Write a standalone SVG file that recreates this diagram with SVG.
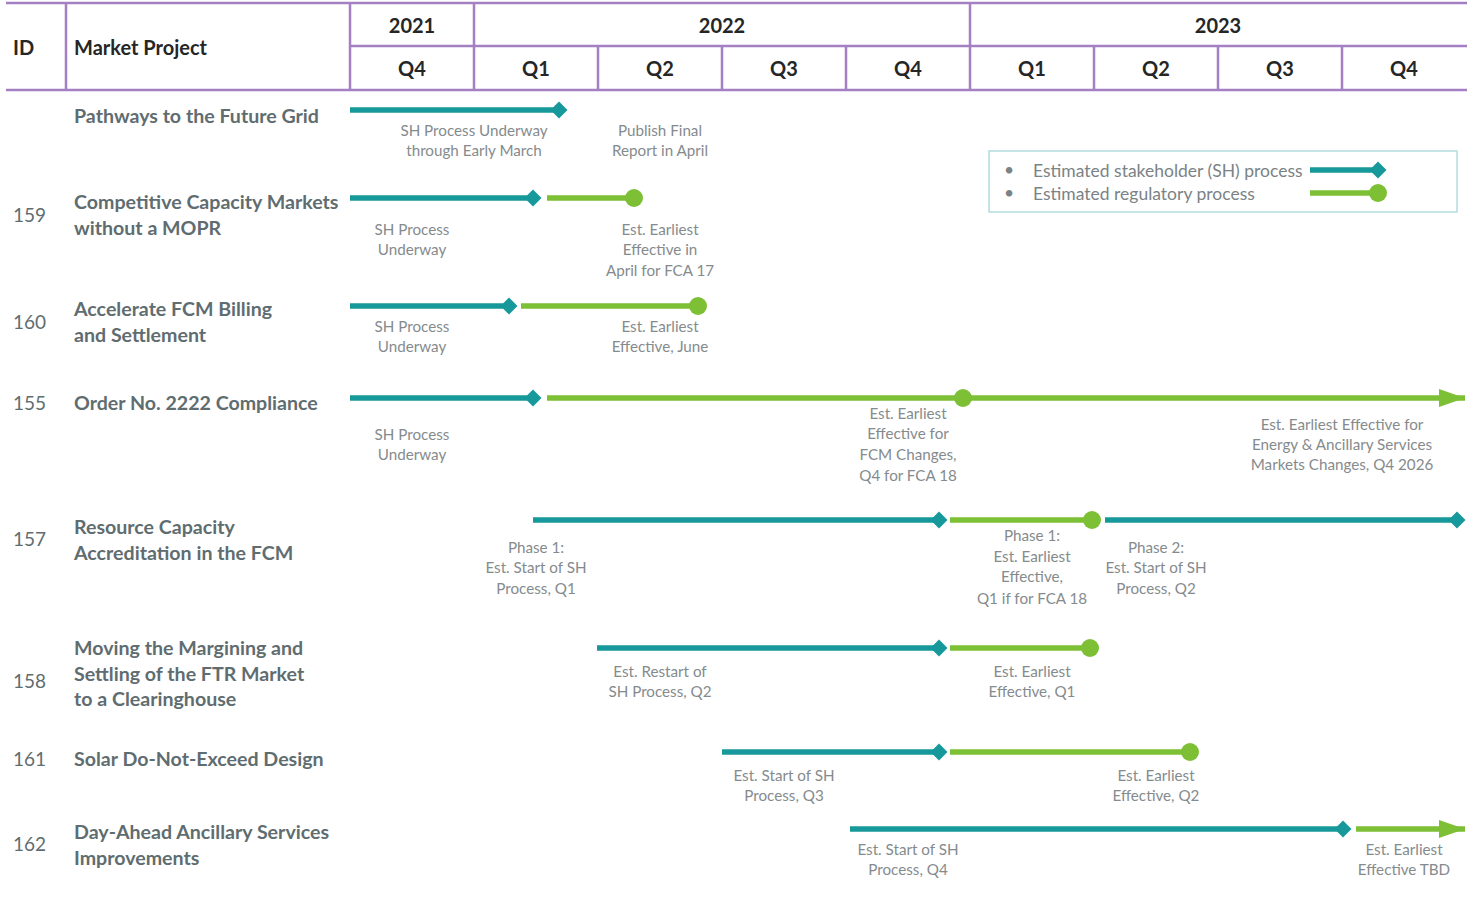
<svg xmlns="http://www.w3.org/2000/svg" width="1473" height="900" viewBox="0 0 1473 900">
<style>
.hdr{font-family:Lato,"Liberation Sans",sans-serif;font-weight:bold;font-size:20px;fill:#262626;dominant-baseline:central}
.yr{text-anchor:middle}
.grid{stroke:#A47FC2;stroke-width:2.5;fill:none}
.id{font-family:Lato,"Liberation Sans",sans-serif;font-size:19px;fill:#5f6d70;dominant-baseline:central}
.name{font-family:Lato,"Liberation Sans",sans-serif;font-weight:bold;font-size:19.6px;fill:#5f6d70;dominant-baseline:central}
.lbl{font-family:Lato,"Liberation Sans",sans-serif;font-size:15.2px;fill:#858b8d;text-anchor:middle;dominant-baseline:central}
.leg{font-family:Lato,"Liberation Sans",sans-serif;font-size:17.5px;fill:#7b8385;dominant-baseline:central}
.sh{stroke:#17989B;stroke-width:5.5;fill:none}
.rg{stroke:#7DBF35;stroke-width:5.5;fill:none}
.shd{fill:#17989B}
.rgd{fill:#7DBF35}
</style>
<defs>
<marker id="dia" viewBox="-10 -10 20 20" markerWidth="20" markerHeight="20" markerUnits="userSpaceOnUse" refX="0" refY="0" orient="auto"><path d="M-8.5,0 L0,-8.5 L8.5,0 L0,8.5 Z" class="shd"/></marker>
<marker id="dot" viewBox="-10 -10 20 20" markerWidth="20" markerHeight="20" markerUnits="userSpaceOnUse" refX="0" refY="0" orient="auto"><circle r="9" class="rgd"/></marker>
<marker id="arr" viewBox="0 -10 26 20" markerWidth="26" markerHeight="20" markerUnits="userSpaceOnUse" refX="26" refY="0" orient="auto"><path d="M0,-9 L26,0 L0,9 Z" class="rgd"/></marker>
</defs>
<rect width="1473" height="900" fill="#ffffff"/>
<g id="header">
<line class="grid" x1="6" y1="3" x2="1467" y2="3"/>
<line class="grid" x1="350" y1="46" x2="1467" y2="46"/>
<line class="grid" x1="6" y1="90" x2="1467" y2="90"/>
<line class="grid" x1="66" y1="3" x2="66" y2="90"/>
<line class="grid" x1="350" y1="3" x2="350" y2="90"/>
<line class="grid" x1="474" y1="3" x2="474" y2="90"/>
<line class="grid" x1="970" y1="3" x2="970" y2="90"/>
<line class="grid" x1="598" y1="46" x2="598" y2="90"/>
<line class="grid" x1="722" y1="46" x2="722" y2="90"/>
<line class="grid" x1="846" y1="46" x2="846" y2="90"/>
<line class="grid" x1="1094" y1="46" x2="1094" y2="90"/>
<line class="grid" x1="1218" y1="46" x2="1218" y2="90"/>
<line class="grid" x1="1342" y1="46" x2="1342" y2="90"/>
<text class="hdr" x="13" y="47">ID</text>
<text class="hdr" x="74" y="47">Market Project</text>
<text class="hdr yr" x="412" y="25">2021</text>
<text class="hdr yr" x="722" y="25">2022</text>
<text class="hdr yr" x="1218" y="25">2023</text>
<text class="hdr yr" x="412" y="68">Q4</text>
<text class="hdr yr" x="536" y="68">Q1</text>
<text class="hdr yr" x="660" y="68">Q2</text>
<text class="hdr yr" x="784" y="68">Q3</text>
<text class="hdr yr" x="908" y="68">Q4</text>
<text class="hdr yr" x="1032" y="68">Q1</text>
<text class="hdr yr" x="1156" y="68">Q2</text>
<text class="hdr yr" x="1280" y="68">Q3</text>
<text class="hdr yr" x="1404" y="68">Q4</text>
</g>
<g id="legend">
<rect x="989" y="151" width="468" height="61" fill="none" stroke="#B3DCE0" stroke-width="1.5"/>
<text class="leg" x="1004" y="169">•</text>
<text class="leg" x="1004" y="192">•</text>
<text class="leg" x="1033" y="170">Estimated stakeholder (SH) process</text>
<text class="leg" x="1033" y="193">Estimated regulatory process</text>
<line class="sh" x1="1310" y1="170" x2="1378" y2="170" marker-end="url(#dia)"/>
<line class="rg" x1="1310" y1="193" x2="1378" y2="193" marker-end="url(#dot)"/>
</g>
<g id="row-pathways">
<text class="name" x="74" y="115">Pathways to the Future Grid</text>
<text class="lbl" x="474" y="130">SH Process Underway</text>
<text class="lbl" x="474" y="150">through Early March</text>
<text class="lbl" x="660" y="130">Publish Final</text>
<text class="lbl" x="660" y="150">Report in April</text>
</g>
<g id="row-159">
<text class="id" x="13" y="214">159</text>
<text class="name" x="74" y="201">Competitive Capacity Markets</text>
<text class="name" x="74" y="227">without a MOPR</text>
<text class="lbl" x="412" y="229">SH Process</text>
<text class="lbl" x="412" y="249">Underway</text>
<text class="lbl" x="660" y="229">Est. Earliest</text>
<text class="lbl" x="660" y="249">Effective in</text>
<text class="lbl" x="660" y="270">April for FCA 17</text>
</g>
<g id="row-160">
<text class="id" x="13" y="321">160</text>
<text class="name" x="74" y="308">Accelerate FCM Billing</text>
<text class="name" x="74" y="334">and Settlement</text>
<text class="lbl" x="412" y="326">SH Process</text>
<text class="lbl" x="412" y="346">Underway</text>
<text class="lbl" x="660" y="326">Est. Earliest</text>
<text class="lbl" x="660" y="346">Effective, June</text>
</g>
<g id="row-155">
<text class="id" x="13" y="402">155</text>
<text class="name" x="74" y="402">Order No. 2222 Compliance</text>
<text class="lbl" x="412" y="434">SH Process</text>
<text class="lbl" x="412" y="454">Underway</text>
<text class="lbl" x="908" y="413">Est. Earliest</text>
<text class="lbl" x="908" y="433">Effective for</text>
<text class="lbl" x="908" y="454">FCM Changes,</text>
<text class="lbl" x="908" y="475">Q4 for FCA 18</text>
<text class="lbl" x="1342" y="424">Est. Earliest Effective for</text>
<text class="lbl" x="1342" y="444">Energy &amp; Ancillary Services</text>
<text class="lbl" x="1342" y="464">Markets Changes, Q4 2026</text>
</g>
<g id="row-157">
<text class="id" x="13" y="538">157</text>
<text class="name" x="74" y="526">Resource Capacity</text>
<text class="name" x="74" y="552">Accreditation in the FCM</text>
<text class="lbl" x="536" y="547">Phase 1:</text>
<text class="lbl" x="536" y="567">Est. Start of SH</text>
<text class="lbl" x="536" y="588">Process, Q1</text>
<text class="lbl" x="1032" y="535">Phase 1:</text>
<text class="lbl" x="1032" y="556">Est. Earliest</text>
<text class="lbl" x="1032" y="576">Effective,</text>
<text class="lbl" x="1032" y="598">Q1 if for FCA 18</text>
<text class="lbl" x="1156" y="547">Phase 2:</text>
<text class="lbl" x="1156" y="567">Est. Start of SH</text>
<text class="lbl" x="1156" y="588">Process, Q2</text>
</g>
<g id="row-158">
<text class="id" x="13" y="680">158</text>
<text class="name" x="74" y="647">Moving the Margining and</text>
<text class="name" x="74" y="673">Settling of the FTR Market</text>
<text class="name" x="74" y="698">to a Clearinghouse</text>
<text class="lbl" x="660" y="671">Est. Restart of</text>
<text class="lbl" x="660" y="691">SH Process, Q2</text>
<text class="lbl" x="1032" y="671">Est. Earliest</text>
<text class="lbl" x="1032" y="691">Effective, Q1</text>
</g>
<g id="row-161">
<text class="id" x="13" y="758">161</text>
<text class="name" x="74" y="758">Solar Do-Not-Exceed Design</text>
<text class="lbl" x="784" y="775">Est. Start of SH</text>
<text class="lbl" x="784" y="795">Process, Q3</text>
<text class="lbl" x="1156" y="775">Est. Earliest</text>
<text class="lbl" x="1156" y="795">Effective, Q2</text>
</g>
<g id="row-162">
<text class="id" x="13" y="843">162</text>
<text class="name" x="74" y="831">Day-Ahead Ancillary Services</text>
<text class="name" x="74" y="857">Improvements</text>
<text class="lbl" x="908" y="849">Est. Start of SH</text>
<text class="lbl" x="908" y="869">Process, Q4</text>
<text class="lbl" x="1404" y="849">Est. Earliest</text>
<text class="lbl" x="1404" y="869">Effective TBD</text>
</g>
<g id="connectors">
<line class="sh" x1="350" y1="110" x2="559" y2="110" marker-end="url(#dia)"/>
<line class="sh" x1="350" y1="198" x2="533" y2="198" marker-end="url(#dia)"/>
<line class="rg" x1="547" y1="198" x2="634" y2="198" marker-end="url(#dot)"/>
<line class="sh" x1="350" y1="306" x2="509" y2="306" marker-end="url(#dia)"/>
<line class="rg" x1="521" y1="306" x2="698" y2="306" marker-end="url(#dot)"/>
<line class="sh" x1="350" y1="398" x2="533" y2="398" marker-end="url(#dia)"/>
<line class="rg" x1="547" y1="398" x2="963" y2="398" marker-end="url(#dot)"/>
<line class="rg" x1="963" y1="398" x2="1465" y2="398" marker-end="url(#arr)"/>
<line class="sh" x1="533" y1="520" x2="939" y2="520" marker-end="url(#dia)"/>
<line class="rg" x1="950" y1="520" x2="1092" y2="520" marker-end="url(#dot)"/>
<line class="sh" x1="1105" y1="520" x2="1457" y2="520" marker-end="url(#dia)"/>
<line class="sh" x1="597" y1="648" x2="939" y2="648" marker-end="url(#dia)"/>
<line class="rg" x1="950" y1="648" x2="1090" y2="648" marker-end="url(#dot)"/>
<line class="sh" x1="722" y1="752" x2="939" y2="752" marker-end="url(#dia)"/>
<line class="rg" x1="950" y1="752" x2="1190" y2="752" marker-end="url(#dot)"/>
<line class="sh" x1="850" y1="829" x2="1343" y2="829" marker-end="url(#dia)"/>
<line class="rg" x1="1356" y1="829" x2="1465" y2="829" marker-end="url(#arr)"/>
</g>
</svg>
